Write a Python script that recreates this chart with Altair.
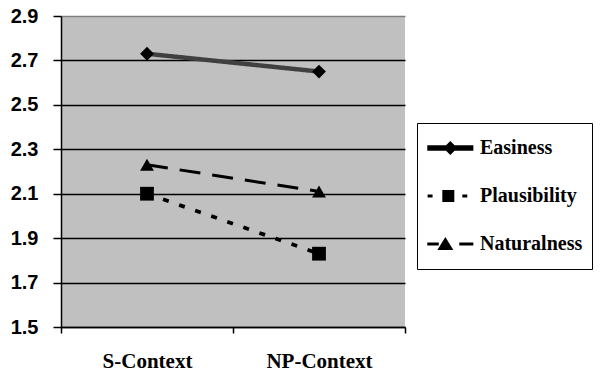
import altair as alt
import pandas as pd

categories = ["S-Context", "NP-Context"]
series_names = ["Easiness", "Plausibility", "Naturalness"]
easiness = [2.73, 2.65]
plausibility = [2.10, 1.83]
naturalness = [2.23, 2.11]
y_ticks = [1.5, 1.7, 1.9, 2.1, 2.3, 2.5, 2.7, 2.9]

rows = []
for name, vals in zip(series_names, [easiness, plausibility, naturalness]):
    for c, v in zip(categories, vals):
        rows.append({"context": c, "series": name, "value": v})
df = pd.DataFrame(rows)

# legend symbols: line + marker as custom paths (unit = half symbol size);
# the two degenerate sub-paths only fix the symbol's vertical extent
ext = " M0.5,-1L0.5,-1Z M0.5,1L0.5,1Z"
legend_paths = [
    "M-0.92,-0.17H1.96V0.17H-0.92Z M0.08,0L0.52,-0.44L0.96,0L0.52,0.44Z" + ext,
    "M-0.9,-0.1H-0.59V0.1H-0.9Z M0.02,-0.37H0.77V0.37H0.02Z M1.27,-0.1H1.58V0.1H1.27Z" + ext,
    "M-0.92,-0.1H-0.2V0.1H-0.92Z M-0.29,0.38L0.21,-0.44L0.71,0.38Z M1.08,-0.1H1.96V0.1H1.08Z" + ext,
]

x_enc = alt.X(
    "context:N",
    sort=categories,
    scale=alt.Scale(paddingInner=0, paddingOuter=0),
    axis=alt.Axis(
        title=None, labelAngle=0, labelFont="Liberation Serif", labelFontSize=21,
        labelFontWeight="bold", labelColor="black", labelPadding=17, tickBand="extent",
        tickSize=6, tickColor="black", tickWidth=1.5, domainColor="black", domainWidth=1.5, grid=False,
    ),
)
y_enc = alt.Y(
    "value:Q",
    scale=alt.Scale(domain=[1.5, 2.9], nice=False, zero=False),
    axis=alt.Axis(
        title=None, values=y_ticks, format=".1f", labelFont="Liberation Sans", labelFontSize=20,
        labelFontWeight="bold", labelColor="black", labelPadding=15, tickSize=8, tickColor="black",
        tickWidth=1.5, domainColor="black", domainWidth=1.5, grid=True,
        gridColor={"condition": {"test": "datum.value >= 2.9", "value": "#808080"}, "value": "black"},
        gridWidth=1.3,
    ),
)

lines = alt.Chart(df).mark_line().encode(
    x=x_enc, y=y_enc, detail="series:N",
    color=alt.Color("series:N", scale=alt.Scale(domain=series_names, range=["#404040", "black", "black"]), legend=None),
    strokeDash=alt.StrokeDash("series:N", scale=alt.Scale(domain=series_names, range=[[1, 0], [6, 11], [21, 12]]), legend=None),
    strokeWidth=alt.StrokeWidth("series:N", scale=alt.Scale(domain=series_names, range=[4.5, 3, 3]), legend=None),
)

points = alt.Chart(df).mark_point(filled=True, opacity=1, fill="black", size=190).encode(
    x=x_enc, y=y_enc,
    shape=alt.Shape("series:N", scale=alt.Scale(domain=series_names, range=["diamond", "square", "triangle-up"]), legend=None),
)

legend_layer = alt.Chart(df).mark_point(filled=True, opacity=0, fill="black").encode(
    x=x_enc, y=y_enc,
    shape=alt.Shape(
        "series:N",
        scale=alt.Scale(domain=series_names, range=legend_paths),
        legend=alt.Legend(
            title=None,
            orient="none", legendX=356, legendY=107, padding=9,
            strokeColor="black", fillColor="white", symbolSize=1024,
            symbolFillColor="black", symbolStrokeWidth=0, symbolOpacity=1,
            labelFont="Liberation Serif", labelFontSize=20, labelFontWeight="bold",
            labelColor="black", labelOffset=22, rowPadding=16,
        ),
    ),
)

chart = (
    alt.layer(lines, points, legend_layer)
    .resolve_scale(shape="independent")
    .properties(
        width=344, height=311,
        autosize=alt.AutoSizeParams(type="none"),
        padding={"left": 61, "top": 16, "right": 198, "bottom": 47},
        background="white",
    )
    .configure_view(fill="#c0c0c0", stroke=None)
)

chart.save("out.html", embed_options={"renderer": "svg", "actions": False})
